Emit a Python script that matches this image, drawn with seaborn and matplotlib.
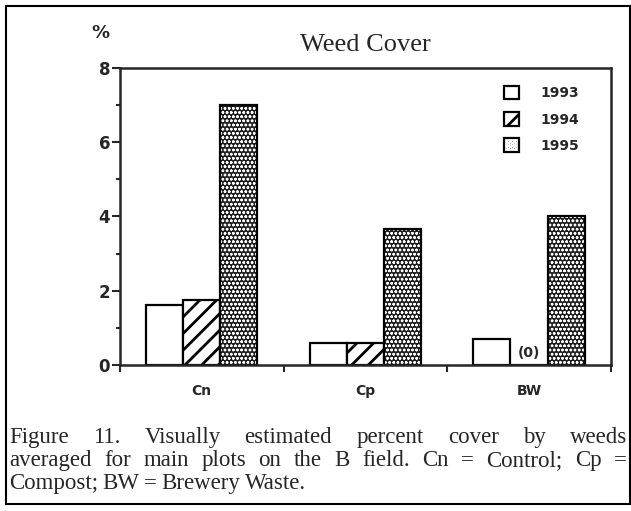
import pandas as pd
import seaborn as sns
import matplotlib.pyplot as plt
from matplotlib.patches import Rectangle

# Data
treatments = ['Cn', 'Cp', 'BW']
years = ['1993', '1994', '1995']
cover_1993 = [1.6, 0.6, 0.7]
cover_1994 = [1.75, 0.6, 0.0]
cover_1995 = [7.0, 3.65, 4.0]

caption_lines = [
    'Figure 11. Visually estimated percent cover by weeds',
    'averaged for main plots on the B field. Cn = Control; Cp =',
    'Compost; BW = Brewery Waste.',
]

df = pd.DataFrame({
    'treatment': treatments * 3,
    'year': [y for y in years for _ in treatments],
    'cover': cover_1993 + cover_1994 + cover_1995,
})

sns.set_style('ticks')
plt.rcParams['font.family'] = ['DejaVu Sans']
plt.rcParams['hatch.linewidth'] = 2.0

fig = plt.figure(figsize=(6.31, 5.11), dpi=100)
ax = fig.add_axes([0.190, 0.286, 0.778, 0.581])

sns.barplot(data=df, x='treatment', y='cover', hue='year', order=treatments,
            hue_order=years, palette=['white'] * 3, width=0.68,
            edgecolor='black', linewidth=1.6, legend=False, ax=ax)

# Bar fills: open, diagonal hatch, dotted (white dots on dark)
for p in ax.containers[1]:
    p.set_hatch('//')
for p in ax.containers[2]:
    p.set_facecolor('#1e1e1e')
    p.set_hatch('oooo')
    p._hatch_color = (1, 1, 1, 1)
    if hasattr(p, 'set_hatch_linewidth'):
        p.set_hatch_linewidth(0.7)

ax.set_xlim(-0.5, 2.5)
ax.set_ylim(0, 8)
ax.set_xlabel('')
ax.set_ylabel('')

for s in ax.spines.values():
    s.set_linewidth(1.8)

ax.set_yticks([0, 2, 4, 6, 8])
ax.set_yticks([1, 3, 5, 7], minor=True)
ax.tick_params(axis='y', which='major', direction='out', length=6, width=1.5,
               pad=1, labelsize=12)
ax.tick_params(axis='y', which='minor', direction='out', length=3, width=1.5)
for t in ax.get_yticklabels():
    t.set_fontweight('bold')

ax.set_xticks([-0.5, 0.5, 1.5, 2.5])
ax.set_xticklabels([])
ax.set_xticks([0, 1, 2], minor=True)
ax.set_xticklabels(treatments, minor=True, fontweight='bold', fontsize=10)
ax.tick_params(axis='x', which='major', direction='out', length=5, width=1.5)
ax.tick_params(axis='x', which='minor', length=0, pad=14)

ax.text(2, 0.12, '(0)', ha='center', va='bottom', fontsize=10, fontweight='bold')

handles = [c.patches[0] for c in ax.containers]
leg = ax.legend(handles, years, loc='upper left', frameon=False,
                bbox_to_anchor=(504 / 631, 1 - 86 / 511),
                bbox_transform=fig.transFigure, borderpad=0, borderaxespad=0,
                handlelength=1.1, handleheight=1.1, handletextpad=1.5,
                labelspacing=0.85, prop={'weight': 'bold', 'size': 10})

fig.text(365 / 631, 1 - 45 / 511, 'Weed Cover', ha='center', va='center',
         family='Liberation Serif', fontsize=19)
fig.text(100 / 631, 1 - 33 / 511, '%', ha='center', va='center',
         fontweight='bold', fontsize=13)

# Outer frame of the figure
fig.add_artist(Rectangle((6 / 631, 7 / 511), 624 / 631, 498 / 511,
                         transform=fig.transFigure, fill=False,
                         edgecolor='black', linewidth=1.5))

# Justified caption
renderer = fig.canvas.get_renderer()
x0, x1 = 9, 627
baselines = [443, 466, 489]
for i, line in enumerate(caption_lines):
    words = line.split()
    texts = [fig.text(0, 1 - baselines[i] / 511, w, va='baseline',
                      family='Liberation Serif', fontsize=16.5) for w in words]
    widths = [t.get_window_extent(renderer).width for t in texts]
    if i < len(caption_lines) - 1:
        gap = (x1 - x0 - sum(widths)) / (len(words) - 1)
    else:
        gap = 4.5
    x = x0
    for t, w in zip(texts, widths):
        t.set_x(x / 631)
        x += w + gap

fig.savefig('out.png', dpi=100)
